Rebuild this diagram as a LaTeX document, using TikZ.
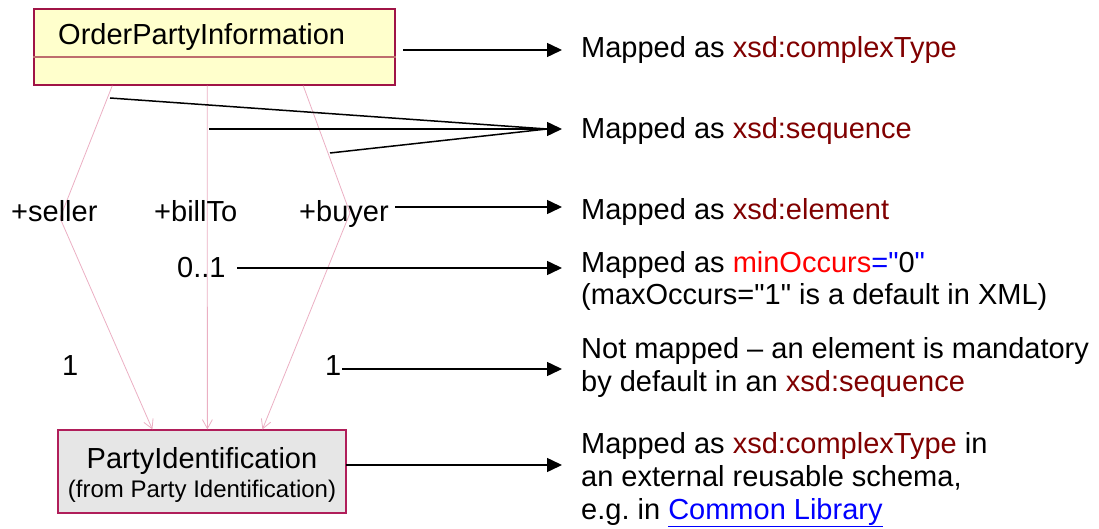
\documentclass[tikz,border=0pt]{standalone}
\usepackage{fontspec}
\setmainfont{Liberation Sans}[Ligatures=TeXOff]
\usetikzlibrary{arrows.meta}
\definecolor{xsdred}{RGB}{128,0,0}
\definecolor{attrred}{RGB}{255,0,0}
\definecolor{attrblue}{RGB}{0,0,255}
\definecolor{linkblue}{RGB}{0,0,255}
\definecolor{classfill}{RGB}{255,255,204}
\definecolor{classedge}{RGB}{160,20,70}
\definecolor{classrule}{RGB}{190,110,110}
\definecolor{extfill}{RGB}{230,230,230}
\definecolor{extedge}{RGB}{176,30,90}
\definecolor{assoc}{RGB}{235,175,195}
\newcommand\xsdname[1]{\textcolor{xsdred}{#1}}
\begin{document}
\begin{tikzpicture}[x=1pt,y=-1pt,
  every node/.style={font=\fontsize{29}{33}\selectfont, inner sep=0pt},
  note/.style={anchor=base west, align=left},
  lbl/.style={anchor=base west},
  classbox/.style={draw=classedge, fill=classfill, line width=1.5pt},
  extbox/.style={draw=extedge, fill=extfill, line width=1.2pt},
  maparrow/.style={draw=black, line width=1.5pt, -{Triangle[length=15pt,width=14pt]}, shorten >=19pt},
  feeder/.style={draw=black, line width=1.5pt},
  assocline/.style={draw=assoc, line width=0.8pt, -{Straight Barb[length=9pt,width=10pt]}}
]
\useasboundingbox (0,0) rectangle (1099,529);

% UML classes
\node[classbox, minimum width=361pt, minimum height=76pt] (opi) at (214.5,47) {};
\draw[classrule, line width=1.2pt] (opi.west |- 0,57) -- (opi.east |- 0,57);
\node[lbl] (opiname) at (58,45) {OrderPartyInformation};

\node[extbox, minimum width=288pt, minimum height=83pt] (pid) at (202,471.5) {};
\node[anchor=base] (pidname) at (202,468) {PartyIdentification};
\node[anchor=base, font=\fontsize{24}{28}\selectfont] (pidfrom) at (202,497) {(from Party Identification)};

% associations
\draw[assocline] ([xshift=79pt]opi.south west) -- (60,218) -- ([xshift=95pt]pid.north west);
\draw[assocline] ([xshift=174pt]opi.south west) -- ([xshift=150pt]pid.north west);
\draw[assocline] ([xshift=270pt]opi.south west) -- (350,213) -- ([xshift=205pt]pid.north west);

% role names and multiplicities
\node[lbl] (seller) at (11,222) {+seller};
\node[lbl] (billto) at (154,222) {+billTo};
\node[lbl] (buyer) at (299,222) {+buyer};
\node[lbl] (opt) at (177,277) {0..1};
\node[lbl] (oneseller) at (62,375) {1};
\node[lbl] (onebuyer) at (325,375) {1};

% mapping notes (multi-line notes are placed by the baseline of their last line)
\node[note] (t1) at (581,58) {Mapped as \xsdname{xsd:complexType}};
\node[note] (t2) at (581,139) {Mapped as \xsdname{xsd:sequence}};
\node[note] (t3) at (581,219) {Mapped as \xsdname{xsd:element}};
\node[note] (t4) at (581,304) {Mapped as \textcolor{attrred}{minOccurs}\textcolor{attrblue}{="}0\textcolor{attrblue}{"}\\[-1pt](maxOccurs="1" is a default in XML)};
\node[note] (t5) at (581,391) {Not mapped – an element is mandatory\\by default in an \xsdname{xsd:sequence}};
\node[note] (t6) at (581,519) {Mapped as \xsdname{xsd:complexType} in\\an external reusable schema,\\e.g.\ in \textcolor{linkblue}{\underline{Common Library}}};

% connector ends
\coordinate (a1) at (403,50);
\coordinate (s1) at (110,98);
\coordinate (s2) at (209,129);
\coordinate (s3) at (330,153);
\coordinate (sj) at (547,129);
\coordinate (a3) at (395,207);
\coordinate (a4) at (237,268);
\coordinate (a5) at (342,369);
\coordinate (a6) at (346,465);

\draw[maparrow] (a1) -- (a1 -| t1.west);
\draw[feeder] (s1) -- (sj);
\draw[feeder] (s2) -- (sj);
\draw[feeder] (s3) -- (sj);
\draw[maparrow] (sj) -- (sj -| t2.west);
\draw[maparrow] (a3) -- (a3 -| t3.west);
\draw[maparrow] (a4) -- (a4 -| t4.west);
\draw[maparrow] (a5) -- (a5 -| t5.west);
\draw[maparrow] (a6) -- (a6 -| t6.west);
\end{tikzpicture}
\end{document}
